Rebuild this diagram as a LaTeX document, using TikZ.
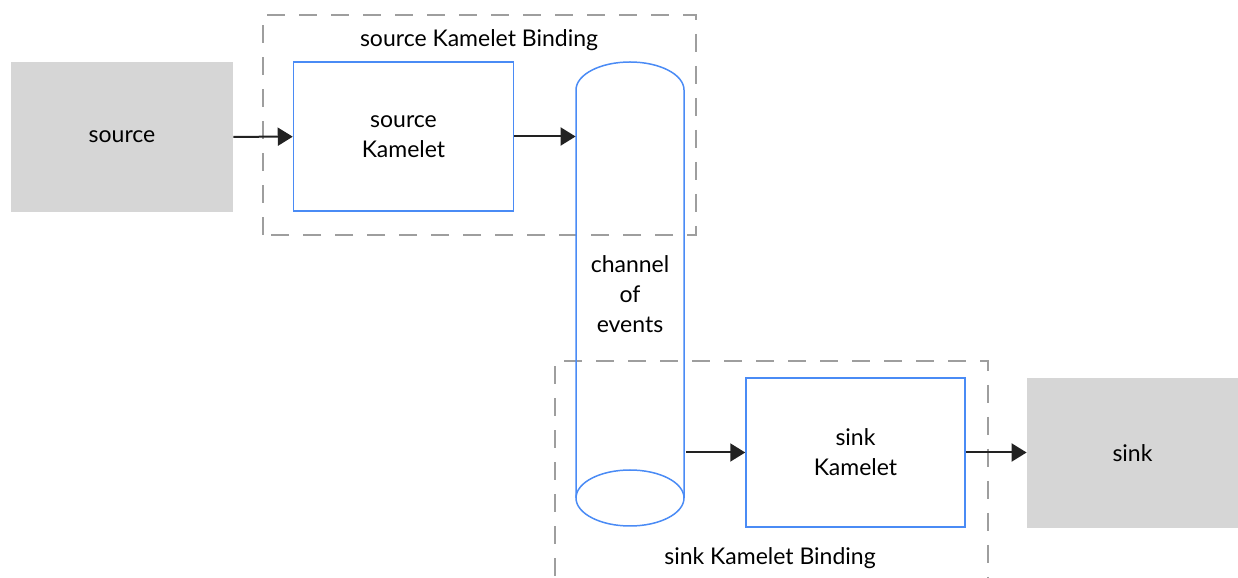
\documentclass[tikz,border=0pt]{standalone}
\usepackage{fontspec}
\setmainfont{Lato}
\usetikzlibrary{arrows.meta,positioning}

\definecolor{kblue}{RGB}{74,139,245}
\definecolor{kgray}{RGB}{214,214,214}
\definecolor{kdash}{RGB}{158,158,158}
\definecolor{karrow}{RGB}{34,34,34}

\begin{document}
\begin{tikzpicture}[%
        x=0.5pt, y=0.5pt,
        >={Triangle[length=7.5pt,width=9pt]},
        font=\fontsize{11.5}{15}\selectfont,
        endpoint/.style={fill=kgray, minimum width=111pt, minimum height=75pt,
            inner sep=0pt, align=center},
        kamelet/.style={draw=kblue, line width=0.75pt, minimum width=110pt,
            minimum height=74.5pt, inner sep=0pt, align=center},
        binding/.style={draw=kdash, line width=0.9pt, dash pattern=on 9pt off 7pt},
        flow/.style={draw=karrow, line width=1pt, ->}
        ]
        \clip (0,0) rectangle (1238,578);
        \useasboundingbox (0,0) rectangle (1238,578);

        % bindings
        \draw[binding] (263,343) rectangle (696,563);
        \node (srclabel) at (479,538) {source Kamelet Binding};
        \draw[binding] (555,-30) rectangle (988,217);
        \node (sinklabel) at (770,20) {sink Kamelet Binding};

        % boxes
        \node[endpoint] (source) at (122,441) {\raisebox{-1.5pt}{source}};
        \node[kamelet] (srckamelet) at (403.5,441.5) {source\\Kamelet};
        \node[kamelet, minimum width=109.5pt] (sinkkamelet) at (855.5,125.5) {sink\\Kamelet};
        \node[endpoint, minimum width=105.5pt] (sink) at (1132.5,125) {\raisebox{-1.5pt}{sink}};

        % channel
        \node[minimum width=54pt, minimum height=232.5pt, inner sep=0pt, align=center]
            (channel) at (630,283.5) {channel\\of\\events};
        \draw[kblue, line width=0.75pt] (576,80) -- (576,488)
            arc[start angle=180, end angle=0, x radius=27pt, y radius=14pt]
            -- (684,80);
        \draw[kblue, line width=0.75pt] (630,80) ellipse[x radius=27pt, y radius=14pt];

        % flows
        \path[flow] (source) -- (srckamelet);
        \path[flow] (srckamelet.east) -- (srckamelet.east -| channel.west);
        \path[flow, shorten <=1pt] (sinkkamelet.west -| channel.east) -- (sinkkamelet.west);
        \path[flow] (sinkkamelet.east) -- (sink.west |- sinkkamelet.east);

\end{tikzpicture}
\end{document}
